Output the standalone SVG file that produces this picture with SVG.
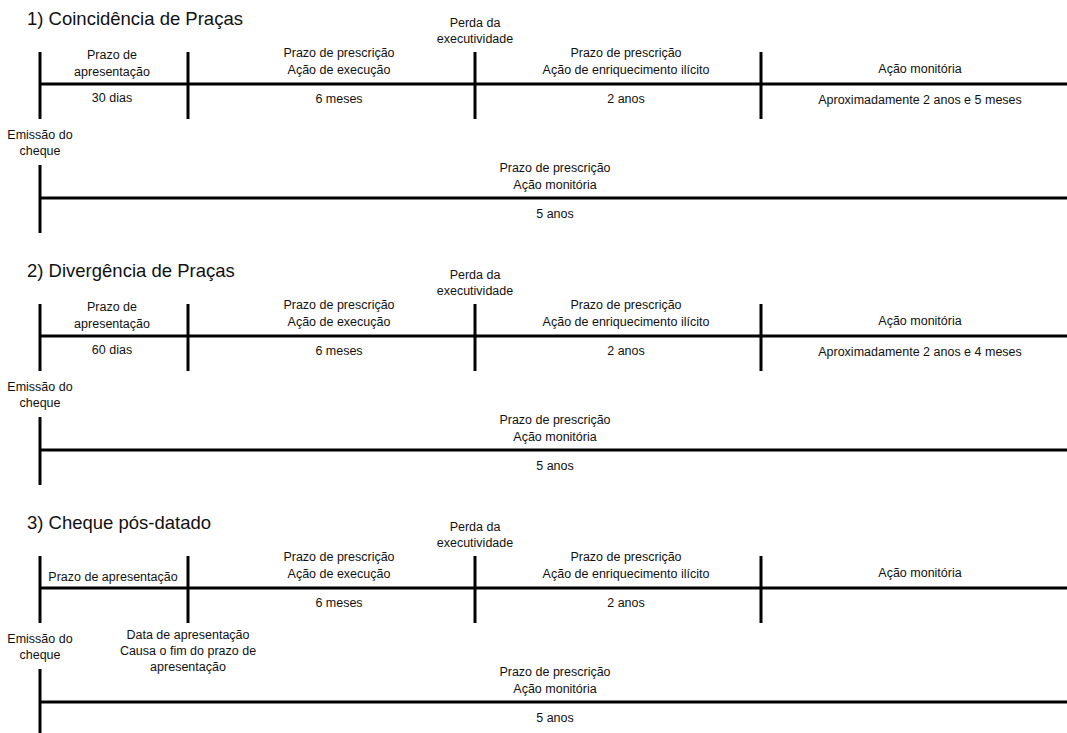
<svg xmlns="http://www.w3.org/2000/svg" width="1067" height="733" viewBox="0 0 1067 733">
<style>
  text { font-family: "Liberation Sans", Arial, sans-serif; font-size: 12.5px; fill: #111; text-anchor: middle; }
  .title { font-size: 18.5px; text-anchor: start; }
  .ln { stroke: #000; stroke-width: 3; fill: none; }
</style>
<rect width="1067" height="733" fill="#fff"/>
<defs>
  <g id="timeline">
    <g class="connectors">
      <line class="ln" x1="40" y1="84" x2="1067" y2="84"/>
      <line class="ln" x1="40" y1="52" x2="40" y2="119"/>
      <line class="ln" x1="188" y1="52" x2="188" y2="119"/>
      <line class="ln" x1="475" y1="52" x2="475" y2="119"/>
      <line class="ln" x1="761" y1="52" x2="761" y2="119"/>
      <line class="ln" x1="40" y1="198" x2="1067" y2="198"/>
      <line class="ln" x1="40" y1="165" x2="40" y2="233"/>
    </g>
    <g class="common-labels">
      <text x="475" y="27">Perda da</text>
      <text x="475" y="43">executividade</text>
      <text x="339" y="57">Prazo de prescrição</text>
      <text x="339" y="74">Ação de execução</text>
      <text x="339" y="103">6 meses</text>
      <text x="626" y="57">Prazo de prescrição</text>
      <text x="626" y="74">Ação de enriquecimento ilícito</text>
      <text x="626" y="103">2 anos</text>
      <text x="920" y="73">Ação monitória</text>
      <text x="40" y="139">Emissão do</text>
      <text x="40" y="155">cheque</text>
      <text x="555" y="172">Prazo de prescrição</text>
      <text x="555" y="189">Ação monitória</text>
      <text x="555" y="218">5 anos</text>
    </g>
  </g>
</defs>

<g id="section1">
  <text class="title" x="27" y="25">1) Coincidência de Praças</text>
  <use href="#timeline"/>
  <text x="112" y="59">Prazo de</text>
  <text x="112" y="76">apresentação</text>
  <text x="112" y="102">30 dias</text>
  <text x="920" y="104">Aproximadamente 2 anos e 5 meses</text>
</g>

<g id="section2" transform="translate(0,252)">
  <text class="title" x="27" y="25">2) Divergência de Praças</text>
  <use href="#timeline"/>
  <text x="112" y="59">Prazo de</text>
  <text x="112" y="76">apresentação</text>
  <text x="112" y="102">60 dias</text>
  <text x="920" y="104">Aproximadamente 2 anos e 4 meses</text>
</g>

<g id="section3" transform="translate(0,504)">
  <text class="title" x="27" y="25">3) Cheque pós-datado</text>
  <use href="#timeline"/>
  <text x="113" y="77">Prazo de apresentação</text>
  <text x="188" y="135">Data de apresentação</text>
  <text x="188" y="151">Causa o fim do prazo de</text>
  <text x="188" y="167">apresentação</text>
</g>
</svg>
